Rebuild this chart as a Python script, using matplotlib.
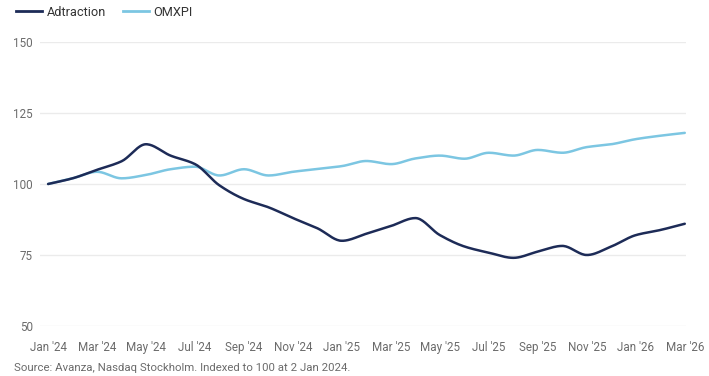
import numpy as np
import matplotlib.pyplot as plt
from matplotlib.lines import Line2D

plt.rcParams['font.family'] = ['Roboto', 'DejaVu Sans']

# monthly points, Jan 2024 .. Mar 2026
months = np.arange(27)
adtraction = [100, 102, 105, 108, 114, 110, 107, 99.5, 94.7, 91.8, 88, 84.4, 80,
              82.5, 85.2, 88, 82, 78, 75.8, 74, 76.2, 78.2, 75, 78, 82, 83.8, 86]
omxpi = [100, 102, 104.3, 102, 103.2, 105.2, 106.1, 103, 105.2, 103, 104.3, 105.3, 106.3,
         108.1, 107, 109, 110, 108.9, 111, 110, 112, 111, 113, 114, 115.8, 117, 118]
tick_pos = np.arange(0, 27, 2)
tick_labels = ["Jan '24", "Mar '24", "May '24", "Jul '24", "Sep '24", "Nov '24", "Jan '25",
               "Mar '25", "May '25", "Jul '25", "Sep '25", "Nov '25", "Jan '26", "Mar '26"]
yticks = [50, 75, 100, 125, 150]


def smooth(x, y, n=20):
    # monotone cubic (Fritsch-Carlson) for a smooth line through the points
    x = np.asarray(x, float)
    y = np.asarray(y, float)
    h = np.diff(x)
    d = np.diff(y) / h
    m = np.zeros_like(y)
    m[0], m[-1] = d[0], d[-1]
    for i in range(1, len(y) - 1):
        if d[i - 1] * d[i] <= 0:
            m[i] = 0
        else:
            m[i] = 2 / (1 / d[i - 1] + 1 / d[i])
    xs, ys = [], []
    for i in range(len(x) - 1):
        t = np.linspace(0, 1, n, endpoint=False)
        h00 = 2 * t**3 - 3 * t**2 + 1
        h10 = t**3 - 2 * t**2 + t
        h01 = -2 * t**3 + 3 * t**2
        h11 = t**3 - t**2
        xs.append(x[i] + t * h[i])
        ys.append(h00 * y[i] + h10 * h[i] * m[i] + h01 * y[i + 1] + h11 * h[i] * m[i + 1])
    xs.append([x[-1]])
    ys.append([y[-1]])
    return np.concatenate(xs), np.concatenate(ys)


dark = '#1d2b57'
light = '#7cc6e2'
grey = '#6b6b6b'

fig = plt.figure(figsize=(7.09, 3.76), dpi=100)
ax = fig.add_axes([40 / 709, 1 - 326 / 376, 646 / 709, 284 / 376])

ax.plot(*smooth(months, omxpi), color=light, lw=1.8, solid_capstyle='round')
ax.plot(*smooth(months, adtraction), color=dark, lw=1.8, solid_capstyle='round')

ax.set_ylim(50, 150)
ax.set_xlim(-0.33, 26.05)
ax.set_yticks(yticks)
ax.set_xticks(tick_pos)
ax.set_xticklabels(tick_labels)
ax.grid(axis='y', color='#ebebeb', lw=1)
ax.set_axisbelow(True)
for s in ax.spines.values():
    s.set_visible(False)
ax.tick_params(length=0, labelsize=8.4, labelcolor=grey)
ax.tick_params(axis='y', pad=5)
ax.tick_params(axis='x', pad=11)

handles = [Line2D([], [], color=dark, lw=2), Line2D([], [], color=light, lw=2)]
fig.legend(handles, ['Adtraction', 'OMXPI'], loc='upper left', bbox_to_anchor=(0.007, 1.015),
           ncol=2, frameon=False, fontsize=9.2, handlelength=2.0, handletextpad=0.4,
           columnspacing=1.3, labelcolor='#333333')

fig.text(14 / 709, 1 - 371 / 376, 'Source: Avanza, Nasdaq Stockholm. Indexed to 100 at 2 Jan 2024.',
         fontsize=8.2, color=grey, va='baseline')

fig.savefig('out.png', dpi=100)
